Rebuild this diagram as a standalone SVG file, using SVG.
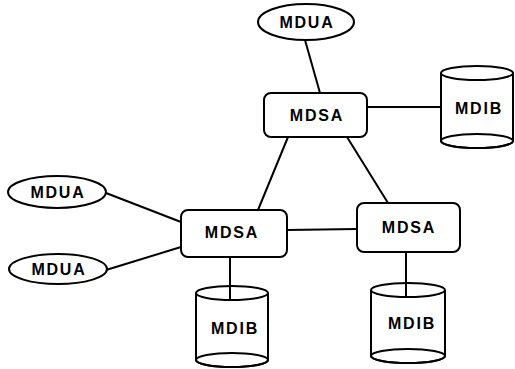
<svg xmlns="http://www.w3.org/2000/svg" width="515" height="369" viewBox="0 0 515 369">
<style>
.s{fill:#fff;stroke:#000;stroke-width:2}
.c{stroke:#000;stroke-width:2;fill:none}
.t{font-family:"Liberation Sans",Arial,sans-serif;font-weight:bold;font-size:16px;letter-spacing:1.8px;text-anchor:middle;dominant-baseline:central;fill:#000}
</style>
<rect width="515" height="369" fill="#fff"/>
<g id="connectors">
<line class="c" x1="305" y1="40" x2="320" y2="93"/>
<line class="c" x1="367" y1="107" x2="441" y2="107"/>
<line class="c" x1="288" y1="137" x2="258" y2="210"/>
<line class="c" x1="347" y1="137" x2="388" y2="203"/>
<line class="c" x1="287" y1="230" x2="357" y2="229"/>
<line class="c" x1="106" y1="193" x2="181" y2="222"/>
<line class="c" x1="106" y1="270" x2="181" y2="247"/>
<line class="c" x1="230" y1="257" x2="230" y2="294"/>
<line class="c" x1="406" y1="252" x2="406" y2="291"/>
</g>
<g id="mdua-top"><ellipse class="s" cx="306" cy="22" rx="48" ry="18"/><text class="t" x="307" y="22">MDUA</text></g>
<g id="mdua-left1"><ellipse class="s" cx="57" cy="192" rx="49" ry="16"/><text class="t" x="58" y="192">MDUA</text></g>
<g id="mdua-left2"><ellipse class="s" cx="58" cy="269" rx="49" ry="15"/><text class="t" x="59" y="269">MDUA</text></g>
<g id="mdsa-top"><rect class="s" x="264" y="93" width="103" height="44" rx="7"/><text class="t" x="317" y="115">MDSA</text></g>
<g id="mdsa-left"><rect class="s" x="181" y="210" width="106" height="47" rx="7"/><text class="t" x="232" y="232">MDSA</text></g>
<g id="mdsa-right"><rect class="s" x="357" y="203" width="103" height="49" rx="7"/><text class="t" x="409" y="227">MDSA</text></g>
<g id="mdib-top">
<path class="s" d="M441 73 V141 A36 7 0 0 0 513 141 V73"/>
<ellipse class="s" cx="477" cy="73" rx="36" ry="7"/>
<ellipse class="c" cx="477" cy="141" rx="36" ry="7"/>
<text class="t" x="479" y="108">MDIB</text></g>
<g id="mdib-left">
<path class="s" d="M196 293 V360 A36 7 0 0 0 268 360 V293"/>
<ellipse class="s" cx="232" cy="293" rx="36" ry="7"/>
<ellipse class="c" cx="232" cy="360" rx="36" ry="7"/>
<line class="c" x1="230" y1="286" x2="230" y2="300"/>
<text class="t" x="235" y="328">MDIB</text></g>
<g id="mdib-right">
<path class="s" d="M371 290 V356 A37 7 0 0 0 445 356 V290"/>
<ellipse class="s" cx="408" cy="290" rx="37" ry="7"/>
<ellipse class="c" cx="408" cy="356" rx="37" ry="7"/>
<line class="c" x1="406" y1="283" x2="406" y2="296"/>
<text class="t" x="412" y="323">MDIB</text></g>
</svg>
